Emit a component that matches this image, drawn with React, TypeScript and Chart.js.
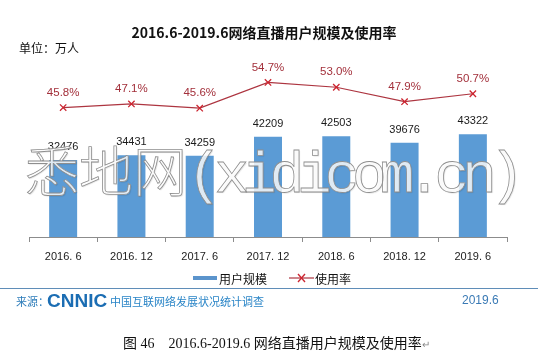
import React, { useEffect, useRef } from "react";
import { Chart, registerables } from "chart.js";

Chart.register(...registerables);

const categories = ["2016. 6", "2016. 12", "2017. 6", "2017. 12", "2018. 6", "2018. 12", "2019. 6"];
const userScale = [32476, 34431, 34259, 42209, 42503, 39676, 43322];
const usageRate = [45.8, 47.1, 45.6, 54.7, 53.0, 47.9, 50.7];

const FONT = '"Liberation Sans", "Noto Sans CJK SC", sans-serif';
const CJK = '"Noto Sans CJK SC", "Liberation Sans", sans-serif';

const labelPlugin = {
  id: "valueLabels",
  afterDatasetsDraw(chart: any) {
    const ctx = chart.ctx;
    ctx.save();
    ctx.textAlign = "center";
    ctx.textBaseline = "middle";
    const barMeta = chart.getDatasetMeta(0);
    ctx.font = "11px " + FONT;
    ctx.fillStyle = "#1a1a1a";
    barMeta.data.forEach((el: any, i: number) => {
      ctx.fillText(String(userScale[i]), el.x, el.y - 13);
    });
    const lineMeta = chart.getDatasetMeta(1);
    ctx.font = "11.5px " + FONT;
    ctx.fillStyle = "#a3303b";
    lineMeta.data.forEach((el: any, i: number) => {
      ctx.fillText(usageRate[i].toFixed(1) + "%", el.x, el.y - 15);
    });
    ctx.restore();
  },
};

export default function App() {
  const ref = useRef<HTMLCanvasElement>(null);
  useEffect(() => {
    if (!ref.current) return;
    const chart = new Chart(ref.current, {
      type: "bar",
      data: {
        labels: categories,
        datasets: [
          {
            type: "bar",
            label: "用户规模",
            data: userScale,
            backgroundColor: "#5b9bd5",
            yAxisID: "y",
            order: 1,
            barPercentage: 0.41,
            categoryPercentage: 1,
          } as any,
          {
            type: "line",
            label: "使用率",
            data: usageRate,
            borderColor: "#ad3540",
            borderWidth: 1.2,
            pointStyle: "crossRot",
            pointRadius: 4.5,
            pointBorderColor: "#cc2530",
            pointBorderWidth: 1.3,
            pointBackgroundColor: "#cc2530",
            tension: 0,
            yAxisID: "y1",
            order: 0,
          } as any,
        ],
      },
      options: {
        animation: false,
        responsive: false,
        layout: { padding: { left: 29, right: 33, top: 59, bottom: 87 } },
        plugins: { legend: { display: false }, tooltip: { enabled: false } },
        scales: {
          x: {
            offset: true,
            grid: {
              offset: true,
              drawOnChartArea: false,
              drawTicks: true,
              tickLength: 5,
              color: "#8c8c8c",
            },
            border: { display: true, color: "#8c8c8c" },
            ticks: { color: "#222", font: { size: 11, family: FONT }, padding: 8 },
            afterFit: (scale: any) => {
              scale.height = 30;
            },
          },
          y: { display: false, min: 0, max: 75000 },
          y1: { display: false, min: 0, max: 63, position: "right" },
        },
      } as any,
      plugins: [labelPlugin],
    });
    return () => chart.destroy();
  }, []);

  const abs = (s: any): any => ({ position: "absolute", whiteSpace: "pre", margin: 0, ...s });
  const wm: any = {
    color: "rgba(255,255,255,0.82)",
    WebkitTextStroke: "0.8px #8e8e8e",
    textShadow: "1px 1px 1px rgba(0,0,0,0.12)",
  };

  return (
    <div style={{ position: "fixed", left: 0, top: 0, width: 540, height: 354, background: "#fff", overflow: "hidden" }}>
      <canvas ref={ref} width={540} height={354} style={{ position: "absolute", left: 0, top: 0, display: "block" }} />
      <div style={abs({ left: 0, width: 528, top: 22, lineHeight: "20px", textAlign: "center", font: "bold 14px " + CJK, color: "#111" })}>
        2016.6-2019.6网络直播用户规模及使用率
      </div>
      <div style={abs({ left: 19, top: 39, lineHeight: "16px", font: "12px " + CJK, color: "#111" })}>单位：万人</div>
      {/* watermark */}
      <div style={abs({ left: 25, top: 136, lineHeight: "66px", ...wm })}>
        <span style={{ fontSize: 54, fontFamily: '"Noto Sans CJK SC", sans-serif', fontWeight: 300 }}>悉地网</span>
        <span
          style={{
            fontSize: 58,
            fontFamily: '"Liberation Mono", monospace',
            letterSpacing: "-7.3px",
          }}
        >
          (xidicom.cn)
        </span>
      </div>
      {/* legend */}
      <div style={abs({ left: 193, top: 276, width: 24, height: 4, background: "#5b94cc" })} />
      <div style={abs({ left: 219, top: 270, lineHeight: "16px", font: "12px " + CJK, color: "#111" })}>用户规模</div>
      <svg style={{ position: "absolute", left: 289, top: 272 }} width={25} height={12}>
        <line x1={0} y1={6} x2={25} y2={6} stroke="#ad3540" strokeWidth={1.2} />
        <line x1={9} y1={2} x2={16} y2={10} stroke="#cc2530" strokeWidth={1.3} />
        <line x1={16} y1={2} x2={9} y2={10} stroke="#cc2530" strokeWidth={1.3} />
      </svg>
      <div style={abs({ left: 315, top: 270, lineHeight: "16px", font: "12px " + CJK, color: "#111" })}>使用率</div>
      {/* footer */}
      <div style={abs({ left: 0, top: 288, width: 538, height: 1, background: "#5f8db8" })} />
      <div style={abs({ left: 16, top: 293, lineHeight: "16px", font: "11px " + CJK, color: "#2b7bb9" })}>来源：</div>
      <div
        style={abs({
          left: 47,
          top: 290,
          lineHeight: "20px",
          font: "900 19px " + FONT,
          color: "#1b6db3",
          letterSpacing: "0px",
        })}
      >
        CNNIC
      </div>
      <div style={abs({ left: 110, top: 293, lineHeight: "16px", font: "11px " + CJK, color: "#2a85c7" })}>
        中国互联网络发展状况统计调查
      </div>
      <div style={abs({ left: 462, top: 293, lineHeight: "16px", font: "12px " + FONT, color: "#3a7ab5" })}>2019.6</div>
      {/* caption */}
      <div style={abs({ left: 123, top: 332, lineHeight: "18px", font: '14px "Liberation Serif", "Noto Sans CJK SC", serif', color: "#111" })}>
        图 46    2016.6-2019.6 网络直播用户规模及使用率<span style={{ color: "#888", fontSize: 10 }}>↵</span>
      </div>
    </div>
  );
}
